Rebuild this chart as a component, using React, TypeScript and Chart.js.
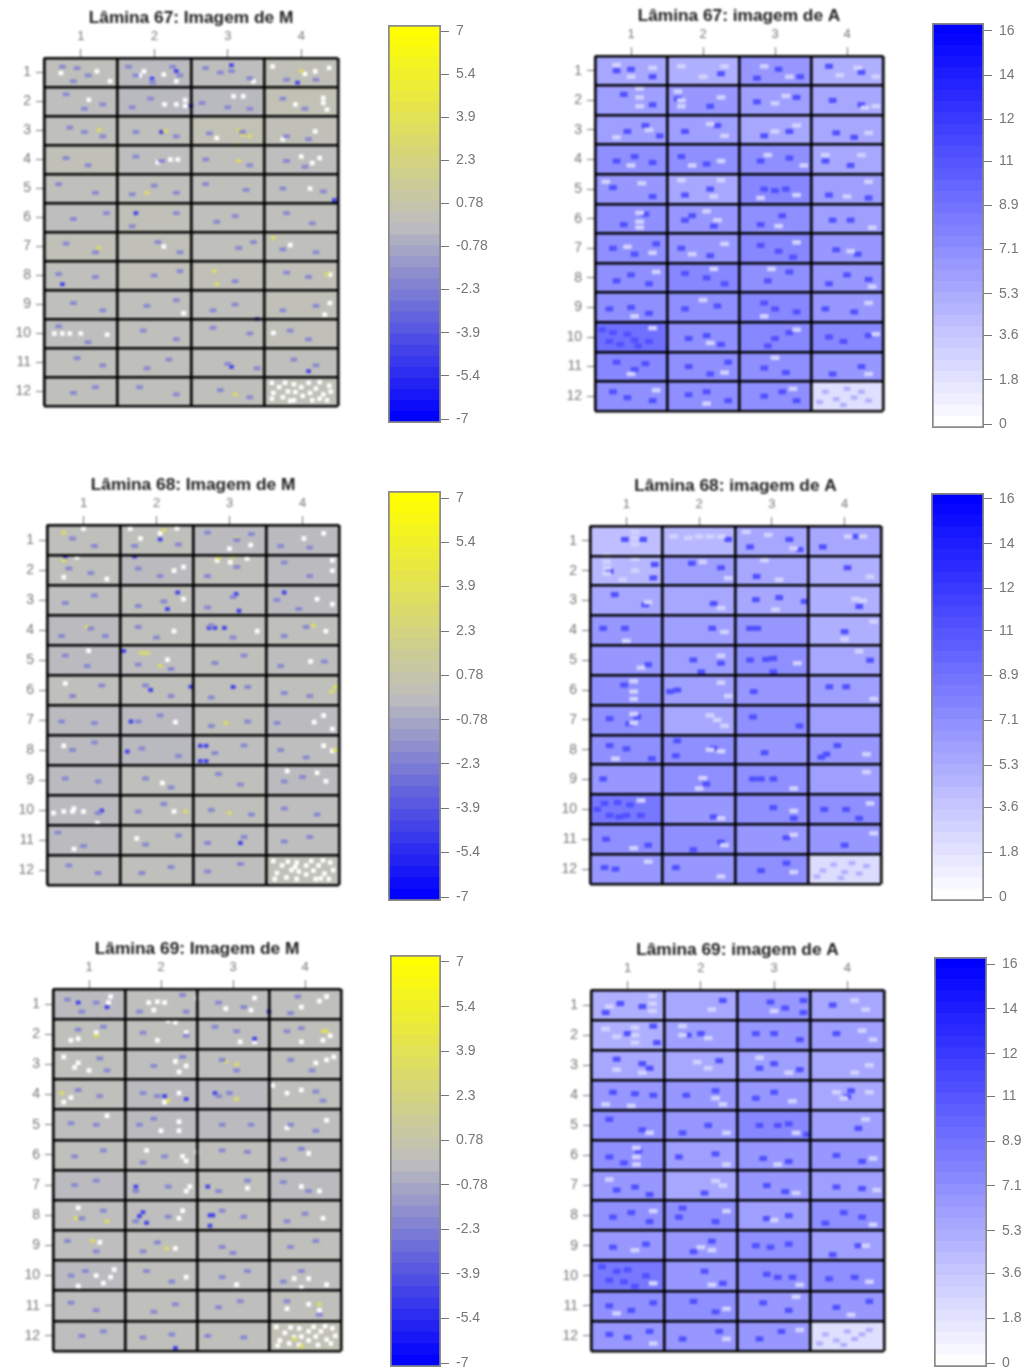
import React, { useEffect, useRef } from "react";
import { Chart, registerables } from "chart.js";
Chart.register(...registerables);

// ---- tick labels ----
const colLabels = [1, 2, 3, 4];
const rowLabels = [1, 2, 3, 4, 5, 6, 7, 8, 9, 10, 11, 12];
const mTickValues = [7, 5.44, 3.89, 2.33, 0.78, -0.78, -2.33, -3.89, -5.44, -7];
const mTickLabels = ["7", "5.4", "3.9", "2.3", "0.78", "-0.78", "-2.3", "-3.9", "-5.4", "-7"];
const aTickValues = [16, 14.2, 12.4, 10.7, 8.9, 7.1, 5.3, 3.6, 1.8, 0];
const aTickLabels = ["16", "14", "12", "11", "8.9", "7.1", "5.3", "3.6", "1.8", "0"];

// ---- block means (12 rows x 4 columns) ----
const m67Means = [[.1,-.1,0,.2],[0,-.2,-.2,.3],[.1,.1,.3,.2],[.2,0,.1,0],[.1,.1,.1,.1],[0,.2,.1,.1],[.2,.2,.1,.1],[.1,.2,.2,.2],[.1,.1,.1,.2],[0,.1,.1,.2],[.1,.1,.1,.1],[.1,.1,.1,.2]];
const m68Means = [[.1,.1,-.1,-.1],[.1,-.1,.1,-.1],[0,.1,0,-.1],[-.1,.1,.1,.1],[-.1,0,.1,0],[.1,.1,.1,.1],[-.1,-.1,.1,-.1],[-.1,-.2,0,0],[-.1,.1,.1,-.1],[-.1,.1,.1,0],[-.1,.1,0,0],[0,.1,0,.2]];
const m69Means = [[-.1,.1,0,.1],[.1,.1,0,.1],[.1,0,0,.1],[.1,-.1,-.1,.1],[0,-.1,-.1,0],[.1,.1,.1,0],[-.1,0,.1,-.1],[0,0,.1,.1],[0,.1,0,.1],[-.1,.1,0,0],[0,.1,0,.1],[0,.1,.1,.3]];
const a67Means = [[5.5,5,6.5,5],[6,6.5,6,5.5],[6,6,5.5,5.5],[7,7,7,5.5],[6.5,5.5,7.5,6],[7,6.5,7,6],[7,6.5,7.5,6.5],[7,7.5,7,6.5],[7,7,7.5,6.5],[9,7,7.5,7.5],[7.5,7,7,6.5],[7,7,7,2]];
const a68Means = [[4,4.5,5.5,5.5],[4.5,6,5.5,5],[5.5,5.5,5.5,5],[6.5,6,6.5,5],[6.5,6,7,5.5],[7,6,6.5,6],[7,5.5,7,6],[7,7,6.5,6.5],[6.5,7,7,6],[8.5,6.5,7,7],[7,7,6.5,6.5],[6.5,6.5,7,2.2]];
const a69Means = [[5,5.5,6.5,5.5],[5,6,6.5,6],[5.5,5.5,6,5.5],[6.5,6.5,6.5,5.5],[7,6.5,7.5,6],[7,6,6.5,6.5],[6.5,5.5,6.5,6],[7,7,6,7],[6.5,6.5,7,6],[8.5,6.5,7,7],[7,7,6.5,6.5],[6.5,6.5,6.5,2]];

const m67White = [.73,1.02,1.22,.96,1.4,1.3,1.86,.96,2.13,1.07,1.97,1.19,3.61,.79,4.19,.96,4.38,.84,4.05,1.05,2.14,2.1,2.3,2.1,2.42,1.95,2.42,2.15,3.08,1.82,3.21,1.82,4.3,1.88,4.3,2.05,3.92,2.1,4.35,2.28,1.11,1.94,2.85,3.26,4.19,3.03,2.22,4,2.32,4,4.15,4.12,4.25,3.95,2.13,7,4.12,5,.64,10,.75,10,.85,10,1,10,1.36,10.04,3.62,9.98,4.39,8.95,4.32,9.35,4.39,7.97,2.4,9.3,2.05,4.1,3.85,6.95,1.8,1.1,2.3,1.3,3.35,1.3,3.75,3.3,4,3.9,
3.6,11.7,3.7,11.85,3.62,12.05,3.6,12.25,3.78,11.7,3.82,12,3.75,12.2,3.9,11.75,3.92,12.02,3.9,12.3,4,11.85,4.02,12.15,4.1,11.7,4.12,12.05,4.15,12.3,4.2,11.9,4.25,11.68,4.3,12.1,4.35,12.3,4.38,11.8,4.4,12,3.85,12.32,4.25,12.25];
const m67Pale = [.75,.8,.95,.85,1.1,1.1,.9,1.3,1.65,.8,1.75,1.1,1.98,1.35,2.25,.8,2.35,1.1,2.7,.85,2.9,1,3.05,.95,3.3,1.2,3.8,1.25,4.2,1.25,.8,1.75,1.05,2.25,1.3,2.1,1.95,1.9,1.7,2.2,2.65,2.05,3,2.2,3.3,2.25,3.75,1.9,4.05,2.25,.85,2.9,1.05,3.05,1.3,3.2,1.75,3.05,2.3,3.2,2.75,3.1,3.2,3.05,3.8,3.2,4.1,3.3,.8,3.95,1.1,4.2,1.75,3.9,2.1,4.05,2.7,4,3.3,4.2,3.8,4.05,4.05,4.25,.7,4.85,1.2,5.15,1.7,5.2,2,4.9,2.3,5.15,2.7,4.85,3.25,5.05,3.75,5,4.3,5.1,.9,6.05,1.35,5.85,1.7,6.3,2.3,5.85,2.85,6.15,3.1,5.95,3.8,5.85,4.15,6.2,.8,6.9,1.2,7.2,2.05,6.85,2.35,7.2,3.15,7.05,3.35,6.85,3.75,7.1,4.2,7.2,.7,7.95,1.2,8.05,2,8,2.35,7.85,3.1,8.2,3.8,7.9,4.1,8.05,.9,8.95,1.3,9.2,1.9,9.05,2.3,8.85,2.8,9.2,3.1,9,3.75,9.2,4.2,9.05,.7,9.75,1.1,10.3,1.85,9.9,2.3,10.2,2.8,9.8,3.3,10,3.85,9.9,4.1,10.2,.95,10.85,1.3,11.1,1.9,11.2,2.2,10.9,3,11.05,3.4,11.2,3.9,10.9,4.2,11.1,.9,12.05,1.2,11.85,1.8,11.85,2.3,12.1,2.9,11.95,3.3,12.2];
const m67Blue = [1.97,1.2,3.95,1.35,2.1,3.05,3.05,11.15,2.3,.95,3.4,9.5,4.45,5.4,1.75,5.85,.75,8.3,4.1,11.3,3.05,.75,2.5,2.15];
const m67Yellow = [4.0,.95,1.25,2.98,3.15,3,3.2,3.15,3.3,3.2,3.15,3.5,2.82,7.85,2.85,8.3,3.15,4.05,2.15,3.02,3.62,6.7,1.9,5.15,4.35,7.95,3.1,12.1,1.25,7.05];
const m68White = [1,.62,.91,1.57,.73,2.24,1.32,2.3,1.64,.62,1.78,.95,2.05,.78,2.28,.61,2.83,1.68,3.01,1.74,3.24,1.62,2.24,2.02,2.37,1.9,3.29,1.17,3,1.29,4.02,.95,4.29,.78,4.41,1.68,4.41,2.02,2.37,2.97,4.2,2.97,4.41,3.14,4.32,4.04,2.24,4.04,3.38,4.04,2.15,4.99,4.11,5.05,1.07,4.69,.75,5.78,2.26,7.07,4.16,7.07,4.29,6.85,4.41,7.3,4.29,7.86,4.41,8.03,.73,7.86,3.79,8.7,4.2,8.76,4.32,9.04,2.08,9.1,.73,10.05,.85,10.05,1,10.05,.87,9.95,.59,10.1,2.24,10.05,1.19,10.44,1.73,10.95,.87,11.3,
3.6,11.7,3.72,11.85,3.65,12.1,3.62,12.3,3.8,11.72,3.85,12,3.78,12.25,3.92,11.75,3.95,12.05,3.92,12.3,4.05,11.85,4.05,12.15,4.12,11.7,4.15,12.02,4.18,12.3,4.22,11.85,4.28,11.68,4.3,12.12,4.36,12.3,4.38,11.75,4.42,12,3.9,11.9,4.25,12.28];
const m68Pale = [.85,.95,1.15,1.2,1.7,1.2,2.3,1.15,2.7,.75,3.1,1,3.3,.8,3.7,1.2,4.1,1.25,.8,1.95,1.1,2.1,1.75,1.95,2.05,2.2,2.7,2.2,3.1,1.9,3.75,1.75,4.1,2.2,.75,3.1,1.15,2.85,1.75,3.2,2.1,3.05,2.7,3.25,3.05,2.9,3.65,3,3.95,3.3,.7,4.2,1.1,3.95,1.3,4.2,1.75,3.9,2,4.25,2.75,3.85,3.05,4.25,3.75,4.2,4.05,3.9,.75,4.85,1.05,5.2,1.75,5.15,2.2,5.3,2.8,5.1,3.2,4.85,3.7,5.2,4.3,5.05,.85,6.2,1.25,5.85,1.85,5.85,2.2,6.2,2.75,6.25,3.25,5.9,3.75,6.1,4.1,6.2,.7,7.05,1.15,7.1,1.75,7.05,2.05,6.85,2.75,7.2,3.25,7.05,3.65,7.1,.85,8,1.15,7.75,1.8,7.95,2.3,8.2,2.8,8.1,3.2,7.85,3.7,8,4.05,8.25,.75,8.95,1.2,9.05,1.85,8.95,2.2,9.25,2.85,8.8,3.15,9.15,3.75,9.05,4,8.9,1.2,10.1,1.75,10.05,2.1,9.8,2.75,10,3.3,10.15,3.75,9.95,4.2,10.15,.65,10.75,1,11.2,1.85,11.15,2.3,10.85,2.7,11.1,3.2,10.9,3.75,11.05,4.1,10.9,.8,11.85,1.2,12.1,1.8,12.1,2.2,11.9,2.7,12.05,3.15,11.8];
const m68Blue = [2.29,2.75,2.47,5.89,2.6,7.86,2.68,7.86,2.6,8.37,2.68,8.37,2.72,3.93,2.8,3.93,2.93,3.93,3.09,2.8,3.13,3.36,1.92,6,1.7,1.55,.75,1.55,2.15,3.3,3.75,2.75,2.05,.98,1.55,4.7,3.15,11.1,1.25,10.02,1.6,8.05,1.65,7.05,3.05,5.9];
const m68Yellow = [.73,.75,.73,1.68,1.87,4.77,1.8,4.77,4.45,5.9,4.4,6.05,4.45,8,3.05,1.55,3.1,.95,4.15,3.85,1.05,3.9,2.05,5.2,3,10.1,2.95,7.1,2.4,10.05,2.1,.68,2.85,1.6];
const m69White = [1.3,.75,1.27,.95,1.83,.95,1.95,.92,2.05,.95,1.9,1.2,2.5,.8,2.9,1.15,3.25,1.2,3.3,.8,3.95,1.1,4.2,.9,4.3,.75,.75,2.2,.85,2.15,1.1,1.95,1.95,2.2,2.1,1.55,2.2,1.6,2.35,1.95,3.3,2.25,3.1,2.25,3.95,2.25,4.25,2.2,4.35,2.05,.65,2.75,.8,3.1,.85,2.95,1,3.2,2.2,2.9,2.35,3.05,2.25,3.25,4.15,2.95,4.3,2.85,4.4,2.75,.65,4.25,.75,4.1,2.25,3.95,2.05,4.25,3.55,3.7,3.75,3.95,3.95,3.85,1.8,5.85,2.0,5.2,2.25,4.9,2.25,5.2,1.25,4.7,4.3,4.85,3.75,5.1,2.3,6.05,2.5,5.9,2.35,6.2,4.05,5.95,2.4,7.05,2.35,7.2,3.2,7.1,3.95,7.05,4.2,7.2,.85,7.75,2.3,7.85,2.25,8.1,4.25,8.1,1.15,8.9,2.2,9.1,1.1,10,1.3,10.05,1.2,10.25,1.35,9.8,.85,10.35,2.35,10.05,3.05,10.3,3.85,10.1,4.05,10.1,3.95,10.4,4.3,10.3,4.05,10.95,4.2,11.15,3.75,11.1,
3.6,11.7,3.72,11.9,3.65,12.15,3.62,12.32,3.8,11.72,3.85,12.05,3.78,12.25,3.92,11.75,3.95,12.02,3.92,12.3,4.05,11.85,4.05,12.15,4.12,11.7,4.15,12.02,4.18,12.3,4.22,11.85,4.28,11.68,4.3,12.12,4.36,12.25,4.38,11.75,4.42,12];
const m69Pale = [.7,.85,1.1,.95,.9,1.25,1.7,1.25,2.3,.7,2.35,1.25,2.8,.95,3.15,1.1,3.8,1.3,3.9,.75,.85,1.85,1.2,1.75,1.75,1.95,2.35,2.05,2.75,1.75,3.05,1.9,3.75,1.9,3.95,1.8,1.15,2.8,1.25,3.2,1.9,3.05,2.3,2.75,2.85,2.85,3.05,3.2,3.8,2.85,4.1,3.2,.85,3.85,1.15,4.05,1.75,3.95,1.95,4.05,2.8,4.05,2.95,3.95,4.15,3.9,4.25,4.2,.75,4.95,1.1,5,1.7,5,1.9,4.8,2.85,5,3.25,5,3.8,5,4.15,5.2,.8,6.05,1.2,5.85,1.75,6.25,2.05,6.05,2.85,5.85,3.2,5.9,3.7,6.15,3.95,5.8,.8,7,1.1,6.85,1.65,7.2,2.1,7.05,2.8,7.2,3.2,6.85,3.7,6.9,4.05,7.2,.9,8.1,1.2,7.85,1.65,8.2,2.1,8.05,2.85,7.85,3.15,8.05,3.75,8.2,4,7.95,.7,8.85,1.1,9.2,1.75,9.2,1.95,8.9,2.85,9.05,3,9.25,3.8,9.05,4.15,8.85,.75,10,.95,9.85,1.8,9.85,2.15,10.2,2.85,10.05,3.2,9.85,3.7,10.2,3.95,9.85,.75,10.9,1.1,11.15,1.9,11.2,2.2,10.95,2.8,11.05,3.1,10.85,3.75,10.85,4.2,11.3,.9,12,1.2,11.85,1.75,12.05,2.15,11.95,2.65,12,3.15,12.05];
const m69Blue = [1.65,7.05,1.75,7.9,1.8,8.25,2.68,8,2.72,8,2.68,8.35,2.75,3.95,2.95,3.95,.85,.95,1.25,1.1,1.7,8.03,2.05,4.05,2.35,4.15,3.5,1.25,3.3,2.15,2.2,12.4,2.65,7.05];
const m69Yellow = [.62,3.95,.82,8.1,2.08,9.1,2.9,2.9,3.05,3,4.25,1.9,4.3,1.9,1.1,2.05,2.1,4.2,3.05,4.15,1.05,8.85,3.95,12.35,3.85,12.1,4.2,10.95,1.25,8.2];
const a67Dark = [.8,1,1,.95,1.3,1.2,2.25,1.1,2.75,1.25,3.05,.95,3.35,1.2,3.75,.85,4.2,1.05,.9,1.8,1.3,2.15,1.65,1.95,2.1,2.2,2.75,2.05,3.3,1.9,3.8,2,4.2,2.15,.95,3.05,1.2,2.85,1.4,3.2,1.75,3.05,2.2,2.85,2.85,3.2,3.2,3.05,3.85,3.1,4.1,3.25,.8,4.05,1.05,3.9,1.3,4.1,1.7,3.9,2.05,4.15,2.8,4.05,3.2,3.95,4.05,4.2,3.7,4.05,.75,4.95,1.3,5.25,1.75,5.2,2.1,5,2.85,5,3,5.05,3.15,5,3.75,5.2,4.3,5.3,.9,6.2,1.2,5.85,1.75,6.05,1.85,5.9,2.15,6.25,2.8,6.2,3.1,5.9,3.8,6.05,4.05,6.05,.75,7,1.05,7.2,1.35,6.85,1.7,7,2.1,7.25,2.8,6.9,3.05,7.1,3.25,7.3,3.85,7.05,4.15,7.2,.8,8.1,1,7.9,1.25,8.2,1.75,7.85,2.05,8,2.3,8.2,2.9,8.1,3.2,7.8,3.75,8.2,4,7.9,4.3,8.05,.7,9.05,1,9,1.25,9.2,1.75,9.05,2.2,8.95,2.85,8.85,3,9.05,3.3,9.15,3.7,9.05,4.1,9.15,.6,9.75,.75,9.85,.95,9.9,1.05,10.1,.7,10.15,.85,10.25,1.1,10.3,1.25,10.15,1.8,10.05,2.05,9.95,2.25,10.25,2.9,10.3,3,10.05,3.2,9.85,3.75,10,3.95,10.15,4.3,9.95,.8,10.85,1.05,11.1,1.2,10.9,1.8,11,2.1,11.25,2.35,10.85,2.85,11.05,3.15,11.2,3.8,11.25,4.2,11,.75,11.85,.95,12.05,1.3,12.15,1.8,11.95,2.05,11.85,2.35,12.15,2.85,12,3.1,11.85,3.3,12.15];
const a67Light = [.8,.8,1,1.2,1.3,.9,1.7,.85,2,1.2,2.3,.85,2.85,.85,3.2,1.2,3.9,1.15,4.15,.9,4.4,1.2,1.12,1.6,1.12,1.9,1.12,2.2,1.65,1.7,1.7,2,1.7,2.2,2.25,1.9,3,2.1,3.15,1.85,4.25,2.25,4.4,2.2,.8,3.25,1.25,3,2.1,2.8,2.3,3.2,3,3.05,3.3,2.85,4.3,3.1,1,4.2,1.85,4.2,2.25,4.05,2.9,3.85,3.4,4.2,3.7,3.85,4.2,3.85,.65,4.75,1.15,4.8,1.7,4.7,2.25,4.7,2.15,5.25,2.8,5.3,3.3,5.2,4,5.25,4.3,4.75,1.12,5.8,1.12,6.1,1.12,6.3,2.05,5.75,2.2,6.05,3.05,6.25,4.35,6.3,.95,6.95,1.3,7.15,1.85,7.2,2.3,6.85,3.3,6.8,4.05,7.1,1.35,7.8,2.15,7.7,2.95,7.7,4.35,8.3,1.05,9.3,2,8.75,2.85,9.3,4.3,8.85,1.3,9.7,2.1,10.2,3.3,9.75,4.4,9.9,1,11.25,2.3,11.2,3,10.7,4.3,11.25,1.35,11.8,2.05,12.25,3.25,11.75];
const a67Faint = [3.7,11.85,3.85,12.1,4,11.75,4.1,12.05,4.2,11.85,3.62,12.2,4.3,12.15,3.95,12.3];
const a68Dark = [.98,.95,1.23,.95,1.39,1.79,1.37,2.24,.77,2.02,3.38,1.29,3.24,.95,2.79,2.19,4.04,1.9,1.26,3.14,.84,2.8,2.78,2.97,3.45,3.03,.98,3.93,.68,3.93,2.18,3.93,2.7,3.93,2.8,3.93,4,4.04,1.92,4.99,3.02,4.94,2.92,4.97,2.7,4.99,2.03,5.39,3.02,5.39,1.7,6,1.6,6.05,.97,5.83,3.79,5.89,4.02,5.89,2.75,6.05,.77,6.96,1.04,7.13,2.74,6.9,3.38,7.2,1.7,7.7,1.68,8.2,.77,7.86,1,7.97,3.68,8.25,3.75,8.15,3.9,7.86,.68,8.98,2.74,8.98,2.85,8.98,3.02,8.98,2.1,9.15,.88,9.77,.7,9.8,1.05,9.85,.6,10,.77,10.2,.9,10.25,1,10.2,1.2,10.2,3.02,9.94,3.72,10,4.02,10,.72,11,1.92,11.35,.7,11.95,.85,12,1.68,11.95,3.2,11.8,1.15,6.9,2.2,3.1,2.3,1.9,1.9,1.75,3.1,2.9,4.2,3.2,1.3,5.15,2.3,5.1,4.35,5,1.35,8.3,2.2,7.95,2.9,8.1,2.2,10.25,3.3,10.3,4.2,10.3,1.3,11.2,2.3,11.1,3.2,10.95,4,11.2,2.85,12.05,4.15,.85,3.7,1.2,2.4,.95,2.7,1.2];
const a68Light = [.73,1.5,.73,1.7,.73,1.9,.73,2.1,1.12,.7,1.12,.9,1.12,1.1,1.12,1.6,1.12,2,1.65,.85,1.85,.9,2,.85,2.15,.85,2.3,.85,2.9,1.65,2.95,.8,2.65,.7,3.3,1.25,4.05,.85,4.25,.85,4.35,2.2,.95,2.3,2.05,1.7,2.4,2.25,3.1,2.3,4.25,3,4.15,2.95,1.3,3.05,2.3,3.25,3.05,3.3,4.4,3.7,4,4.3,1,4.35,2.35,4.05,2.3,4.85,3.35,5.1,4.2,4.7,1.2,5.25,2.4,6.2,2.3,5.75,4.4,6.3,1.1,5.7,1.1,6.05,1.1,6.3,2.25,7,2.15,6.85,2.35,7.2,1.1,6.8,1.1,7.1,.85,8.3,2.3,8.05,2.15,8,4.3,8.15,2.05,8.95,2,9.3,3.3,9.3,4.3,8.75,1.2,9.7,2.3,10.3,3.3,10.05,4.35,9.8,1.1,11.3,2.35,11.2,3.3,10.85,4.4,10.8,1.3,11.75,2.3,12.25,3.3,12.1];
const a68Faint = [3.7,12.05,3.85,11.85,4,12.1,4.1,11.8,4.2,12.15,3.62,12.25,4.3,11.9,3.95,12.3];
const a69Dark = [.9,.95,1.2,1.05,.7,1.25,2.3,.85,2.95,.9,3.15,1.1,3.4,.85,3.4,1.25,3.8,1,1.35,1.7,1.4,2.25,1,1.95,1.82,2,2,1.95,2.75,1.95,3,1.95,3.35,2.15,3.85,1.95,1.3,3.1,.85,2.8,1.2,2.95,2.25,2.85,2.8,3.1,3,2.95,3.35,3.15,.8,3.9,1.1,3.95,1.35,4,1.8,4,2.2,3.85,2.75,4.1,3,3.9,4,4.05,4.05,3.85,.75,4.8,1.2,5.15,1.75,5.25,2.1,5,2.8,5,3.05,5,3.2,4.95,3.45,5.3,4.15,5.1,.75,6.05,1.15,5.85,.95,6.25,1.7,6.05,2.2,5.95,2.85,6.1,3.2,6.2,3.85,6,4.2,6.2,.85,7.15,1.1,7.05,1.3,7.3,2.05,7.25,2.9,7,3.15,7.2,3.85,7.05,4.2,7.1,.8,8.05,1.05,7.9,1.3,8.2,1.7,8.05,1.75,7.75,2.2,8.2,2.9,8.1,3.2,8,3.7,8.25,3.95,7.9,4.2,8.05,.8,9.05,1.25,8.95,1.9,9.2,2.15,8.85,2.75,9,2.95,9.05,3.2,8.95,3.8,9.3,4.15,9,.65,9.7,.85,9.85,1,9.8,.75,10.15,.95,10.2,1.1,10.35,1.25,10,2.05,9.85,2.3,10.25,2.9,9.95,3.05,10.05,3.25,10.05,3.75,10.1,4.1,10.05,.75,11,1.05,11.15,1.35,10.9,1.9,10.85,2.2,11.2,2.85,10.9,3.2,11.15,3.85,11.05,4.3,10.85,.75,11.95,1,12.05,1.3,11.85,1.75,12.1,2.25,11.85,2.8,12.1,3.1,11.85];
const a69Light = [1.34,.7,1.34,.95,1.34,1.2,.75,1.05,1.1,1.75,1.1,2,1.1,2.25,.7,1.8,.85,2.05,1.75,1.7,1.75,2,2.15,1.15,2.1,2.1,3,1.2,4.1,.85,4.25,1.15,4.2,1.85,4.35,2.15,.85,3.15,1.2,3.25,2.1,3.1,1.95,2.9,2.8,2.75,3.2,3.25,4.3,3,4.1,3.25,3.85,3.9,3.95,4.1,4.3,3.9,.7,4.3,1.05,4.35,2.2,4.1,2.3,4.3,3.25,4.2,2.35,5.25,1.3,5.25,3.3,5.25,4.25,4.8,1.12,5.75,1.12,6.05,1.12,6.3,2.35,6.3,3.05,6.3,4.35,6.1,2.3,7,2.2,6.85,.75,6.8,3.3,7.25,4.4,7.15,1.35,7.85,2.35,7.85,3,8.15,4.35,8.3,1.1,9.15,2.15,9.15,2,9.05,4.25,9,1.35,10.25,2.15,10.3,3.35,10.3,4.3,10.2,.85,11.25,2.35,11.1,3.3,10.7,4.05,11.3,1.35,12.25,2.35,12.1,3.35,11.8];
const a69Faint = [3.7,11.95,3.85,12.15,4,11.85,4.1,12.1,4.2,11.95,3.62,12.25,4.3,11.8,3.95,12.3];

// ---- colour maps ----
const mix = (a: number[], b: number[], t: number) =>
  `rgb(${a.map((c, i) => Math.round(c + (b[i] - c) * t)).join(",")})`;
const mColor = (v: number) =>
  v >= 0 ? mix([190, 190, 190], [255, 255, 0], Math.min(1, v / 7)) : mix([190, 190, 190], [0, 0, 255], Math.min(1, -v / 7));
const aColor = (v: number) => mix([255, 255, 255], [0, 0, 255], Math.min(1, v / 16));

const pairs = (flat: number[]) => {
  const out: { x: number; y: number }[] = [];
  for (let i = 0; i + 1 < flat.length; i += 2) out.push({ x: flat[i], y: flat[i + 1] });
  return out;
};

const TICK = "#777";
const FONT = "'Liberation Sans', Arial, sans-serif";
const noPad = (s: any) => { s.paddingTop = 0; s.paddingBottom = 0; s.paddingLeft = 0; s.paddingRight = 0; };

type Spot = { points: number[]; color: string; w: number; h: number };
type HeatProps = {
  title: string; fx: number; fy: number; fw: number; fh: number;
  means: number[][]; color: (v: number) => string; spots: Spot[];
};

function Heat({ title, fx, fy, fw, fh, means, color, spots }: HeatProps) {
  const ref = useRef<HTMLCanvasElement>(null);
  const L = 34, T = 50, PAD = 6;
  useEffect(() => {
    const base: any[] = [];
    means.forEach((row, r) => row.forEach((v, c) => {
      base.push({ x: colLabels[c], y: [rowLabels[r] - 0.5, rowLabels[r] + 0.5], fill: color(v) });
    }));
    const datasets: any[] = [{
      data: base, grouped: false, barThickness: fw / 4 + 1, borderWidth: 0, order: 100,
      backgroundColor: base.map((b) => b.fill),
    }];
    spots.forEach((s, i) => {
      datasets.push({
        data: pairs(s.points).map((p) => ({ x: p.x, y: [p.y - s.h, p.y + s.h] })),
        grouped: false, barThickness: s.w, borderWidth: 0, backgroundColor: s.color, order: 50 - i,
      });
    });
    const gridAxis = (axis: "x" | "y", bounds: number[], size: "width" | "height") => ({
      type: "linear", axis, position: axis === "x" ? "top" : "left",
      min: bounds[0], max: bounds[bounds.length - 1], reverse: axis === "y", offset: false,
      border: { display: false },
      ticks: { display: false },
      grid: { z: 1, color: "#000", lineWidth: 2.6, drawTicks: false, drawOnChartArea: true, offset: false },
      afterBuildTicks: (s: any) => { s.ticks = bounds.map((value) => ({ value })); },
      afterFit: (s: any) => { s[size] = 0; noPad(s); },
    });
    const rowEdges = [0, ...rowLabels].map((v) => v + 0.5);
    const colEdges = [0, ...colLabels].map((v) => v + 0.5);
    const chart = new Chart(ref.current as HTMLCanvasElement, {
      type: "bar",
      data: { datasets },
      options: {
        responsive: false, animation: false,
        layout: { padding: { left: 0, top: 0, right: PAD, bottom: PAD } },
        plugins: { legend: { display: false }, tooltip: { enabled: false }, title: { display: false } },
        scales: {
          x: {
            type: "linear", position: "top", min: 0.5, max: 4.5, offset: false,
            border: { display: false },
            title: { display: true, text: title, color: "#1c1c1c", font: { family: FONT, size: 17.3, weight: "bold" }, padding: { top: 0, bottom: 0 } },
            ticks: { color: TICK, font: { family: FONT, size: 13 }, padding: 5, maxRotation: 0, autoSkip: false },
            grid: { drawOnChartArea: false, color: TICK, tickLength: 9, lineWidth: 1, offset: false },
            afterBuildTicks: (s: any) => { s.ticks = colLabels.map((value) => ({ value })); },
            afterFit: (s: any) => { s.height = T; noPad(s); },
          },
          y: {
            type: "linear", position: "left", min: 0.5, max: 12.5, reverse: true,
            border: { display: false },
            ticks: { color: TICK, font: { family: FONT, size: 14 }, padding: 5, autoSkip: false },
            grid: { drawOnChartArea: false, color: TICK, tickLength: 8, lineWidth: 1 },
            afterBuildTicks: (s: any) => { s.ticks = rowLabels.map((value) => ({ value })); },
            afterFit: (s: any) => { s.width = L; noPad(s); },
          },
          xEdges: gridAxis("x", colEdges, "height"),
          yEdges: gridAxis("y", rowEdges, "width"),
        },
      } as any,
    });
    return () => chart.destroy();
  }, []);
  return (
    <canvas ref={ref} width={fw + L + PAD} height={fh + T + PAD}
      style={{ position: "absolute", left: fx - L, top: fy - T, filter: "blur(0.85px)" }} />
  );
}

type BarProps = {
  bx: number; by: number; bw: number; bh: number; firstY: number; lastY: number;
  values: number[]; labels: string[]; color: (v: number) => string; axisW: number;
};

function ColorBar({ bx, by, bw, bh, firstY, lastY, values, labels, color, axisW }: BarProps) {
  const ref = useRef<HTMLCanvasElement>(null);
  useEffect(() => {
    const top = values[0], bottom = values[values.length - 1];
    const perUnit = (lastY - firstY) / (top - bottom);
    const vMax = top + (firstY - by) / perUnit;
    const vMin = bottom - (by + bh - lastY) / perUnit;
    const BANDS = 36;
    const datasets: any[] = [];
    datasets.push({
      data: [[vMin, vMax]], grouped: false, backgroundColor: "rgba(0,0,0,0)", order: 0,
      borderColor: "#8a8a8a", borderWidth: 1.4, borderSkipped: false, barPercentage: 1, categoryPercentage: 1,
    });
    for (let i = 0; i < BANDS; i++) {
      const lo = vMin + ((vMax - vMin) * i) / BANDS;
      const hi = vMin + ((vMax - vMin) * (i + 1)) / BANDS;
      datasets.push({
        data: [[lo, hi + 0.02]], grouped: false, borderWidth: 0, order: 1,
        backgroundColor: color((lo + hi) / 2), barPercentage: 1, categoryPercentage: 1,
      });
    }
    const chart = new Chart(ref.current as HTMLCanvasElement, {
      type: "bar",
      data: { labels: [""], datasets },
      options: {
        responsive: false, animation: false,
        layout: { padding: { left: 1, top: 1, right: 0, bottom: 1 } },
        plugins: { legend: { display: false }, tooltip: { enabled: false } },
        scales: {
          x: { display: false },
          y: {
            type: "linear", position: "right", min: vMin, max: vMax,
            border: { display: false },
            ticks: {
              color: TICK, font: { family: FONT, size: 14 }, padding: 7, autoSkip: false,
              callback: (v: number) => {
                const i = values.indexOf(v);
                return i >= 0 ? labels[i] : "";
              },
            },
            grid: { drawOnChartArea: false, color: TICK, tickLength: 8, lineWidth: 1 },
            afterBuildTicks: (s: any) => { s.ticks = values.map((value) => ({ value })); },
            afterFit: (s: any) => { s.width = axisW; noPad(s); },
          },
        },
      } as any,
    });
    return () => chart.destroy();
  }, []);
  return (
    <canvas ref={ref} width={bw + axisW + 1} height={bh + 2}
      style={{ position: "absolute", left: bx - 1, top: by - 1, filter: "blur(0.7px)" }} />
  );
}

const mSpots = (white: number[], pale: number[], blue: number[], yellow: number[]): Spot[] => [
  { points: white, color: "#ffffff", w: 4, h: 0.065 },
  { points: blue, color: mColor(-4.5), w: 4, h: 0.055 },
  { points: yellow, color: mColor(3.2), w: 4, h: 0.05 },
  { points: pale, color: mColor(-2), w: 6, h: 0.055 },
];
const aSpots = (dark: number[], light: number[], faint: number[]): Spot[] => [
  { points: dark, color: aColor(11), w: 7, h: 0.075 },
  { points: light, color: aColor(2.8), w: 8, h: 0.065 },
  { points: faint, color: aColor(5), w: 6, h: 0.06 },
];

export default function App() {
  return (
    <div style={{ position: "absolute", left: 0, top: 0, width: 1026, height: 1372, overflow: "hidden", background: "#fff" }}>
      <Heat title="Lâmina 67: Imagem de M" fx={44} fy={58} fw={294} fh={348} means={m67Means} color={mColor} spots={mSpots(m67White, m67Pale, m67Blue, m67Yellow)} />
      <ColorBar bx={388} by={25} bw={53} bh={398} firstY={31} lastY={419} values={mTickValues} labels={mTickLabels} color={mColor} axisW={48} />
      <Heat title="Lâmina 67: imagem de A" fx={595} fy={56} fw={288} fh={355} means={a67Means} color={aColor} spots={aSpots(a67Dark, a67Light, a67Faint)} />
      <ColorBar bx={932} by={23} bw={52} bh={405} firstY={31} lastY={424} values={aTickValues} labels={aTickLabels} color={aColor} axisW={40} />

      <Heat title="Lâmina 68: Imagem de M" fx={47} fy={525} fw={292} fh={360} means={m68Means} color={mColor} spots={mSpots(m68White, m68Pale, m68Blue, m68Yellow)} />
      <ColorBar bx={388} by={491} bw={53} bh={410} firstY={498} lastY={897} values={mTickValues} labels={mTickLabels} color={mColor} axisW={48} />
      <Heat title="Lâmina 68: imagem de A" fx={590} fy={526} fw={291} fh={358} means={a68Means} color={aColor} spots={aSpots(a68Dark, a68Light, a68Faint)} />
      <ColorBar bx={931} by={493} bw={53} bh={408} firstY={499} lastY={897} values={aTickValues} labels={aTickLabels} color={aColor} axisW={40} />

      <Heat title="Lâmina 69: Imagem de M" fx={53} fy={989} fw={288} fh={362} means={m69Means} color={mColor} spots={mSpots(m69White, m69Pale, m69Blue, m69Yellow)} />
      <ColorBar bx={390} by={955} bw={51} bh={412} firstY={962} lastY={1363} values={mTickValues} labels={mTickLabels} color={mColor} axisW={48} />
      <Heat title="Lâmina 69: imagem de A" fx={591} fy={990} fw={293} fh={361} means={a69Means} color={aColor} spots={aSpots(a69Dark, a69Light, a69Faint)} />
      <ColorBar bx={934} by={957} bw={53} bh={410} firstY={964} lastY={1363} values={aTickValues} labels={aTickLabels} color={aColor} axisW={38} />
    </div>
  );
}
